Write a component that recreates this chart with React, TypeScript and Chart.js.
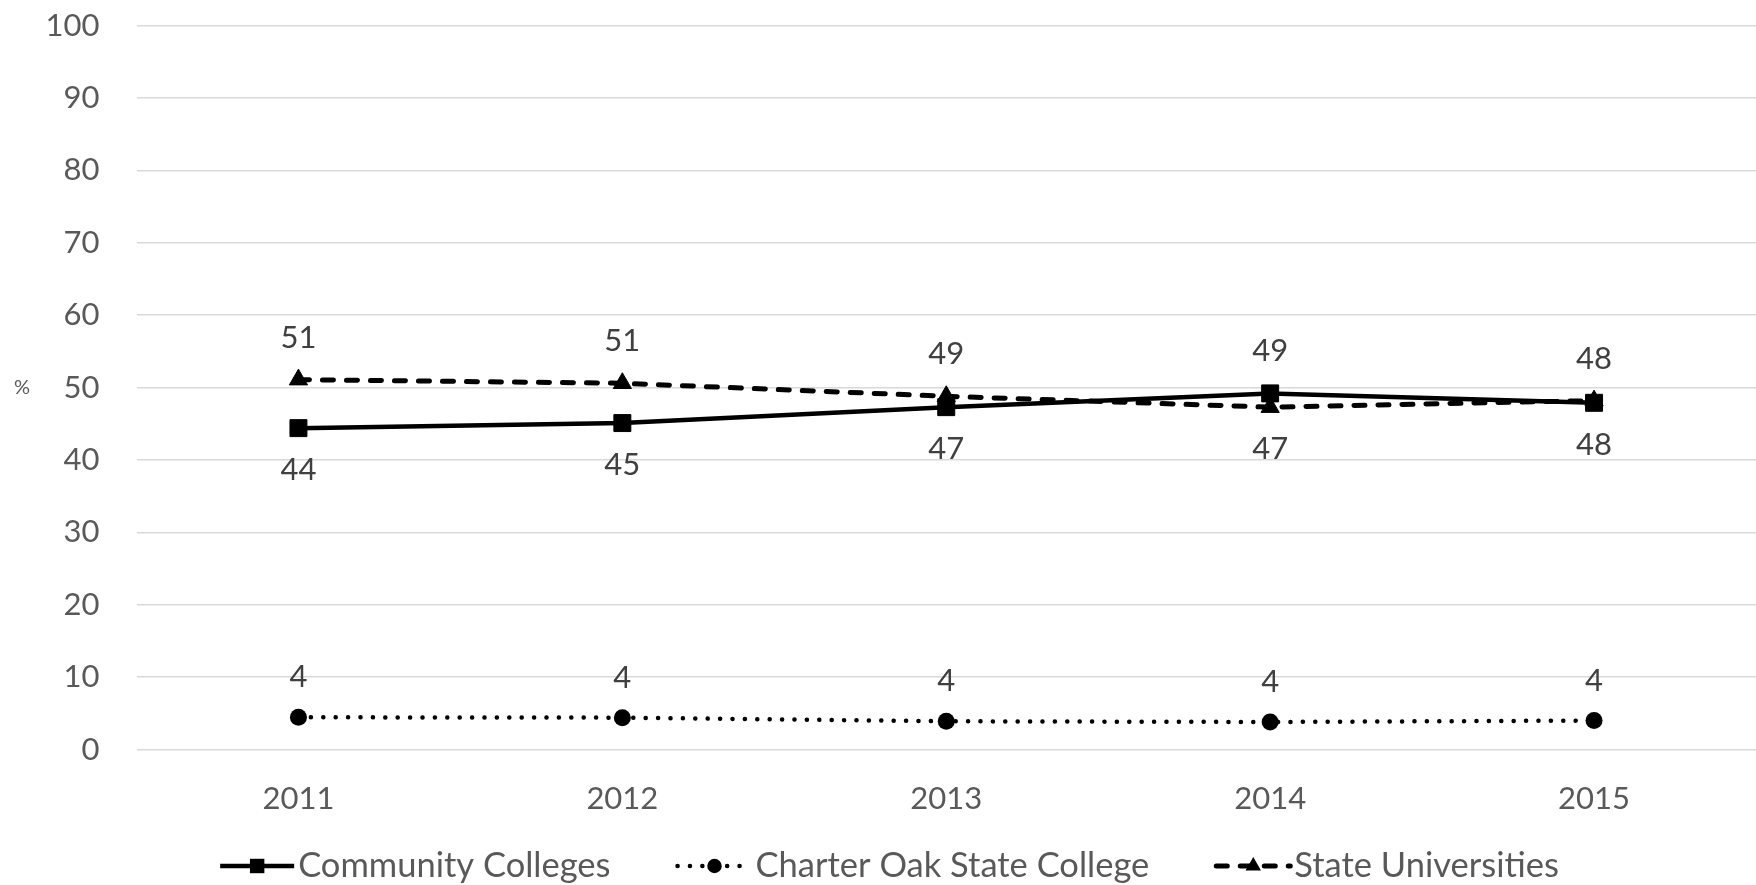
import React, { useEffect, useRef } from 'react';
import { Chart, registerables } from 'chart.js';

Chart.register(...registerables);

// ---- data ----
const years = ['2011', '2012', '2013', '2014', '2015'];
const seriesNames = ['Community Colleges', 'Charter Oak State College', 'State Universities'];
const communityColleges = [44.4, 45.1, 47.3, 49.2, 47.9];
const charterOak = [4.45, 4.4, 3.9, 3.8, 4.0];
const stateUniversities = [51.1, 50.6, 48.8, 47.3, 48.2];
const yMin = 0;
const yMax = 100;
const yStep = 10;
const axisTitle = '%';

const FONT = 'Lato';
const TICK_COLOR = '#595959';
const LABEL_COLOR = '#404040';

const CANVAS_W = 1769;
const CANVAS_H = 885;

function drawMarker(ctx: CanvasRenderingContext2D, style: string, x: number, y: number, r: number) {
  ctx.save();
  ctx.setLineDash([]);
  ctx.fillStyle = '#000';
  ctx.beginPath();
  if (style === 'rect') {
    const s = Math.SQRT1_2 * r;
    ctx.rect(x - s, y - s, 2 * s, 2 * s);
  } else if (style === 'triangle') {
    ctx.moveTo(x, y - r);
    ctx.lineTo(x + r * 0.866, y + r * 0.5);
    ctx.lineTo(x - r * 0.866, y + r * 0.5);
    ctx.closePath();
  } else {
    ctx.arc(x, y, r, 0, Math.PI * 2);
  }
  ctx.fill();
  ctx.restore();
}

const dataLabelPlugin = {
  id: 'dataLabelPlugin',
  afterDatasetsDraw(chart: any) {
    const ctx: CanvasRenderingContext2D = chart.ctx;
    const ds = chart.data.datasets;
    ctx.save();
    ctx.font = `31px ${FONT}`;
    ctx.fillStyle = LABEL_COLOR;
    ctx.textAlign = 'center';
    ctx.textBaseline = 'middle';
    ds.forEach((d: any, i: number) => {
      const meta = chart.getDatasetMeta(i);
      meta.data.forEach((pt: any, j: number) => {
        const v = d.data[j];
        let above = true;
        if (d.labelSide === 'auto') {
          const other = ds.find((o: any, k: number) => k !== i && o.labelSide === 'auto');
          above = v >= other.data[j];
        }
        const off = d.labelOffset;
        ctx.fillText(String(Math.round(v)), pt.x, above ? pt.y - off : pt.y + off);
      });
    });
    ctx.restore();
  },
};

const legendPlugin = {
  id: 'customLegend',
  afterDraw(chart: any) {
    const ctx: CanvasRenderingContext2D = chart.ctx;
    const ds = chart.data.datasets;
    const sampleLen = 74;
    const sampleGap = 4;
    const itemGap = 67;
    ctx.save();
    ctx.font = `34.5px ${FONT}`;
    const widths = ds.map((d: any) => ctx.measureText(d.label).width);
    const total = widths.reduce((a: number, b: number) => a + b, 0) + ds.length * (sampleLen + sampleGap) + (ds.length - 1) * itemGap;
    let x = chart.width / 2 + 5 - total / 2;
    const y = 866;
    ds.forEach((d: any, i: number) => {
      ctx.save();
      ctx.strokeStyle = '#000';
      ctx.lineWidth = d.borderWidth;
      ctx.lineCap = d.borderCapStyle || 'butt';
      ctx.setLineDash(d.borderDash || []);
      ctx.beginPath();
      ctx.moveTo(x, y);
      ctx.lineTo(x + sampleLen, y);
      ctx.stroke();
      ctx.restore();
      drawMarker(ctx, d.pointStyle, x + sampleLen / 2, y, d.pointRadius * 0.85);
      ctx.fillStyle = TICK_COLOR;
      ctx.textAlign = 'left';
      ctx.textBaseline = 'middle';
      ctx.fillText(d.label, x + sampleLen + sampleGap, y);
      x += sampleLen + sampleGap + widths[i] + itemGap;
    });
    // axis title
    ctx.font = `20px ${FONT}`;
    ctx.fillStyle = TICK_COLOR;
    ctx.textAlign = 'center';
    ctx.textBaseline = 'middle';
    const ca = chart.chartArea;
    ctx.fillText(axisTitle, 22, (ca.top + ca.bottom) / 2);
    ctx.restore();
  },
};

export default function App() {
  const ref = useRef<HTMLCanvasElement | null>(null);

  useEffect(() => {
    if (!ref.current) return;
    const chart = new Chart(ref.current, {
      type: 'line',
      data: {
        labels: years,
        datasets: [
          {
            label: seriesNames[0],
            data: communityColleges,
            borderColor: '#000',
            backgroundColor: '#000',
            borderWidth: 4.5,
            pointStyle: 'rect',
            pointRadius: 12,
            pointBackgroundColor: '#000',
            pointBorderColor: '#000',
            pointBorderWidth: 1,
            tension: 0,
            fill: false,
            labelSide: 'auto',
            labelOffset: 42,
          } as any,
          {
            label: seriesNames[1],
            data: charterOak,
            borderColor: '#000',
            backgroundColor: '#000',
            borderWidth: 4.5,
            borderDash: [0.1, 12.3],
            borderCapStyle: 'round',
            pointStyle: 'circle',
            pointRadius: 8.5,
            pointBackgroundColor: '#000',
            pointBorderColor: '#000',
            pointBorderWidth: 0,
            tension: 0,
            fill: false,
            labelSide: 'above',
            labelOffset: 40,
          } as any,
          {
            label: seriesNames[2],
            data: stateUniversities,
            borderColor: '#000',
            backgroundColor: '#000',
            borderWidth: 5,
            borderDash: [11, 13],
            borderCapStyle: 'round',
            pointStyle: 'triangle',
            pointRadius: 10.5,
            pointBackgroundColor: '#000',
            pointBorderColor: '#000',
            pointBorderWidth: 1,
            tension: 0,
            fill: false,
            labelSide: 'auto',
            labelOffset: 42,
          } as any,
        ],
      },
      options: {
        responsive: false,
        animation: false,
        layout: { padding: { left: 0, right: 0, top: 25.7, bottom: 0 } },
        plugins: {
          legend: { display: false },
          tooltip: { enabled: false },
          title: { display: false },
        },
        scales: {
          x: {
            offset: true,
            grid: { display: false, drawTicks: false },
            border: { display: false },
            ticks: {
              padding: 31,
              color: TICK_COLOR,
              font: { family: FONT, size: 31 },
              maxRotation: 0,
            },
            afterFit: (scale: any) => {
              scale.height = CANVAS_H - 749.5;
              scale.paddingLeft = 0;
              scale.paddingRight = 0;
            },
          },
          y: {
            min: yMin,
            max: yMax,
            grid: { color: '#d9d9d9', lineWidth: 1.5, drawTicks: false },
            border: { display: false },
            ticks: {
              stepSize: yStep,
              padding: 37,
              color: TICK_COLOR,
              font: { family: FONT, size: 31 },
            },
            afterFit: (scale: any) => {
              scale.width = 136.5;
              scale.paddingTop = 0;
              scale.paddingBottom = 0;
            },
          },
        },
      },
      plugins: [dataLabelPlugin, legendPlugin],
    } as any);
    return () => chart.destroy();
  }, []);

  return (
    <div style={{ position: 'absolute', left: 0, top: 0, width: 1756, height: 885, overflow: 'hidden', background: '#fff' }}>
      <canvas ref={ref} width={CANVAS_W} height={CANVAS_H} style={{ display: 'block', width: CANVAS_W, height: CANVAS_H }} />
    </div>
  );
}
